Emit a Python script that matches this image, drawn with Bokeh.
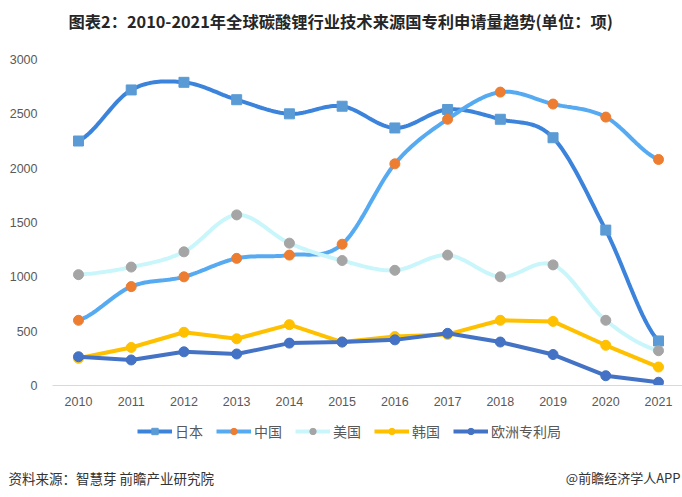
import numpy as np
from bokeh.plotting import figure
from bokeh.layouts import column
from bokeh.models import Range1d, Label, Legend, LegendItem, FixedTicker, ColumnDataSource
from bokeh.embed import file_html
from bokeh.resources import INLINE

years = [2010, 2011, 2012, 2013, 2014, 2015, 2016, 2017, 2018, 2019, 2020, 2021]
japan = [2250, 2720, 2790, 2630, 2500, 2570, 2370, 2540, 2450, 2280, 1430, 410]
china = [600, 910, 1000, 1170, 1200, 1300, 2040, 2450, 2700, 2590, 2470, 2080]
usa = [1020, 1090, 1230, 1570, 1310, 1150, 1060, 1200, 1000, 1110, 600, 320]
korea = [250, 350, 490, 430, 560, 400, 450, 470, 600, 590, 370, 170]
epo = [265, 235, 310, 290, 390, 400, 420, 480, 400, 285, 90, 30]
y_ticks = [0, 500, 1000, 1500, 2000, 2500, 3000]
series_names = ["日本", "中国", "美国", "韩国", "欧洲专利局"]

TITLE = "图表2：2010-2021年全球碳酸锂行业技术来源国专利申请量趋势(单位：项)"
SOURCE = "资料来源：智慧芽 前瞻产业研究院"
BRAND = "@前瞻经济学人APP"

FONT = "Noto Sans CJK SC"
NUMFONT = "Liberation Sans"

styles = [
    dict(line="#3c83dc", marker="square", mcolor="#5b9bd5", smooth=True),
    dict(line="#56aaf2", marker="circle", mcolor="#ed7d31", smooth=True),
    dict(line="#c9f6fa", marker="circle", mcolor="#a5a5a5", smooth=True),
    dict(line="#ffc000", marker="circle", mcolor="#ffc000", smooth=False),
    dict(line="#4472c4", marker="circle", mcolor="#4472c4", smooth=False),
]
series = [japan, china, usa, korea, epo]


def smooth(xs, ys, n=24):
    xs = np.asarray(xs, float)
    ys = np.asarray(ys, float)
    px = np.concatenate([[2 * xs[0] - xs[1]], xs, [2 * xs[-1] - xs[-2]]])
    py = np.concatenate([[ys[0]], ys, [ys[-1]]])
    ox, oy = [], []
    t = np.linspace(0, 1, n)
    for i in range(1, len(px) - 2):
        p0, p1, p2, p3 = (np.array([px[j], py[j]]) for j in (i - 1, i, i + 1, i + 2))
        c1 = p1 + (p2 - p0) / 6.0
        c2 = p2 - (p3 - p1) / 6.0
        pts = ((1 - t) ** 3)[:, None] * p1 + (3 * (1 - t) ** 2 * t)[:, None] * c1 \
            + (3 * (1 - t) * t ** 2)[:, None] * c2 + (t ** 3)[:, None] * p2
        ox.extend(pts[:, 0].tolist())
        oy.extend(pts[:, 1].tolist())
    return ox, oy


W = 682


def blank(h):
    f = figure(width=W, height=h, output_backend="svg", toolbar_location=None,
               x_range=Range1d(0, W), y_range=Range1d(0, h),
               x_axis_location=None, y_axis_location=None,
               min_border_left=0, min_border_right=0, min_border_top=0, min_border_bottom=0)
    f.outline_line_color = None
    f.grid.visible = False
    f.frame_align = False
    return f


# ---- title strip
TH = 45
pt = blank(TH)
pt.add_layout(Label(x=68, y=TH - 20, text=TITLE,
                    text_font=FONT, text_font_size="16.3px", text_font_style="bold",
                    text_color="#262626", text_align="left", text_baseline="middle"))

# ---- main chart
MH = 365
p = figure(width=W, height=MH, output_backend="svg", toolbar_location=None,
           x_range=Range1d(2010 - 26 / 52.73, 2021 + 24 / 52.73), y_range=Range1d(0, 3000),
           min_border_left=52, min_border_right=0, min_border_top=14, min_border_bottom=25)
p.frame_align = False
p.outline_line_color = None
p.xgrid.grid_line_color = None
p.ygrid.grid_line_color = None

p.xaxis.ticker = FixedTicker(ticks=years)
p.yaxis.ticker = FixedTicker(ticks=y_ticks)
for ax in (p.xaxis[0], p.yaxis[0]):
    ax.major_tick_line_color = None
    ax.minor_tick_line_color = None
    ax.major_label_text_font = NUMFONT
    ax.major_label_text_font_size = "12.5px"
    ax.major_label_text_color = "#595959"
p.xaxis.axis_line_color = "#d9d9d9"
p.xaxis.major_label_standoff = 5
p.yaxis.axis_line_color = None
p.yaxis.major_label_standoff = 9

for vals, st in zip(series, styles):
    if st["smooth"]:
        sx, sy = smooth(years, vals)
    else:
        sx, sy = years, vals
    p.line(sx, sy, line_color=st["line"], line_width=4)
    p.scatter(years, vals, marker=st["marker"], size=10,
              fill_color=st["mcolor"], line_color=st["mcolor"])

# ---- legend + footer strip
FH = 497 - TH - MH
pf = blank(FH)
items = []
for name, st in zip(series_names, styles):
    # points far outside the visible strip, only so the legend can draw its glyph
    src = ColumnDataSource(data=dict(x=[-1000, -999], y=[-1000, -1000]))
    rl = pf.line("x", "y", source=src, line_color=st["line"], line_width=4)
    rm = pf.scatter("x", "y", source=src, marker=st["marker"], size=9,
                    fill_color=st["mcolor"], line_color=st["mcolor"])
    items.append(LegendItem(label=name, renderers=[rl, rm]))

legend = Legend(items=items, orientation="horizontal", location=(137, FH - 31),
                border_line_color=None, background_fill_alpha=0,
                label_text_font=FONT, label_text_font_size="14px", label_text_color="#595959",
                glyph_width=35, glyph_height=16, label_standoff=3, spacing=13,
                padding=0, margin=0)
pf.add_layout(legend, "center")

pf.add_layout(Label(x=8, y=FH - 67, text=SOURCE,
                    text_font=FONT, text_font_size="13.5px",
                    text_color="#333333", text_align="left", text_baseline="middle"))
pf.add_layout(Label(x=680, y=FH - 67, text=BRAND,
                    text_font=FONT, text_font_size="13px",
                    text_color="#333333", text_align="right", text_baseline="middle"))

layout = column(pt, p, pf, spacing=0)
open("out.html", "w").write(file_html(layout, INLINE))
